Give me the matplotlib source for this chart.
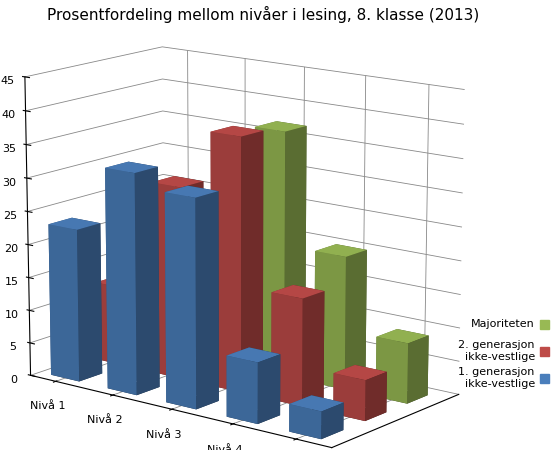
import numpy as np
import matplotlib.pyplot as plt
from matplotlib.colors import LightSource

levels = ["Nivå 1", "Nivå 2", "Nivå 3", "Nivå 4", "Nivå 5"]
series = ["1. generasjon\nikke-vestlige", "2. generasjon\nikke-vestlige", "Majoriteten"]
blue = [23, 33, 31, 9, 4]
red = [12, 29, 38, 16, 6]
green = [3, 13, 37, 20, 9]
colors = ["#4a7ebb", "#be4b48", "#98b954"]

fig = plt.figure(figsize=(5.6, 4.5), dpi=100)
ax = fig.add_axes([-0.12, -0.12, 1.08, 1.16], projection="3d")
ls = LightSource(azdeg=200, altdeg=60)

for row, (vals, col) in enumerate(reversed(list(zip([blue, red, green], colors)))):
    y = 2 - row
    for i, v in enumerate(vals):
        ax.bar3d(i + 0.2, y + 0.2, 0, 0.5, 0.5, v, color=col, shade=True,
                 lightsource=ls, edgecolor="none")

ax.set_xticks(np.arange(5) + 0.45)
ax.set_xticklabels(levels, fontsize=8)
ax.set_yticks([])
ax.set_zlim(0, 45)
ax.set_zticks(range(0, 46, 5))
ax.tick_params(axis="z", labelsize=8, pad=0)
ax.set_xlim(0, 5)
ax.set_ylim(0, 3)
ax.set_box_aspect((1.6, 0.9, 1.3))
ax.view_init(elev=14, azim=-52)
ax.zaxis._axinfo["juggled"] = (1, 2, 0)
for a in (ax.xaxis, ax.yaxis, ax.zaxis):
    a.set_pane_color((1, 1, 1, 0))
    a._axinfo["grid"]["color"] = "#888888"
    a._axinfo["grid"]["linewidth"] = 0.6

fig.text(0.47, 0.955, "Prosentfordeling mellom nivåer i lesing, 8. klasse (2013)",
         ha="center", fontsize=11)
ys = [0.16, 0.22, 0.28]
for lab, col, yy in zip(series, colors, ys):
    fig.text(0.955, yy, lab, ha="right", va="center", fontsize=8)
    fig.patches.append(plt.Rectangle((0.965, yy - 0.01), 0.016, 0.02, color=col,
                                     transform=fig.transFigure, figure=fig))
fig.savefig("out.png", dpi=100)
